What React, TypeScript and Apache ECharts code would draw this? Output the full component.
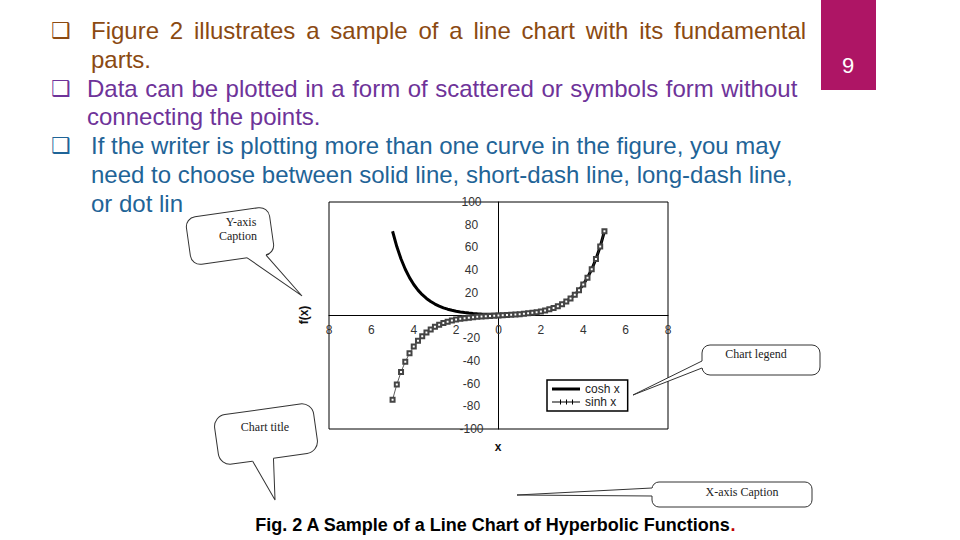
import React, { useEffect, useRef } from "react";
import * as echarts from "echarts";

const xValues = [
  -5, -4.8, -4.6, -4.4, -4.2, -4, -3.8, -3.6, -3.4, -3.2, -3, -2.8, -2.6, -2.4, -2.2, -2, -1.8, -1.6, -1.4, -1.2, -1,
  -0.8, -0.6, -0.4, -0.2, 0, 0.2, 0.4, 0.6, 0.8, 1, 1.2, 1.4, 1.6, 1.8, 2, 2.2, 2.4, 2.6, 2.8, 3, 3.2, 3.4, 3.6, 3.8,
  4, 4.2, 4.4, 4.6, 4.8, 5,
];
const coshValues = [
  74.21, 60.76, 49.74, 40.73, 33.35, 27.31, 22.36, 18.31, 15.0, 12.29, 10.07, 8.25, 6.77, 5.56, 4.57, 3.76, 3.11,
  2.58, 2.15, 1.81, 1.54, 1.34, 1.19, 1.08, 1.02, 1.0, 1.02, 1.08, 1.19, 1.34, 1.54, 1.81, 2.15, 2.58, 3.11, 3.76,
  4.57, 5.56, 6.77, 8.25, 10.07, 12.29, 15.0, 18.31, 22.36, 27.31, 33.35, 40.73, 49.74, 60.76, 74.21,
];
const sinhValues = [
  -74.2, -60.75, -49.73, -40.72, -33.34, -27.29, -22.34, -18.29, -14.97, -12.25, -10.02, -8.19, -6.69, -5.47, -4.46,
  -3.63, -2.94, -2.38, -1.9, -1.51, -1.18, -0.89, -0.64, -0.41, -0.2, 0, 0.2, 0.41, 0.64, 0.89, 1.18, 1.51, 1.9, 2.38,
  2.94, 3.63, 4.46, 5.47, 6.69, 8.19, 10.02, 12.25, 14.97, 18.29, 22.34, 27.29, 33.34, 40.72, 49.73, 60.75, 74.2,
];
const seriesNames = ["cosh x", "sinh x"];

const bulletLines = [
  { text: "Figure 2 illustrates a sample of a line chart with its fundamental", x: 91, y: 30, color: "#8B4A12", bullet: true, justify: 10.8 },
  { text: "parts.", x: 91, y: 59, color: "#8B4A12", bullet: false, justify: 0 },
  { text: "Data can be plotted in a form of scattered or symbols form without", x: 87, y: 88, color: "#6E3399", bullet: true, justify: 7.5 },
  { text: "connecting the points.", x: 87, y: 116, color: "#6E3399", bullet: false, justify: 0 },
  { text: "If the writer is plotting more than one curve in the figure, you may", x: 91, y: 145, color: "#1F6497", bullet: true, justify: 0 },
  { text: "need to choose between solid line, short-dash line, long-dash line,", x: 91, y: 174, color: "#1F6497", bullet: false, justify: 0 },
  { text: "or dot lin", x: 91, y: 203, color: "#1F6497", bullet: false, justify: 0 },
];

const SANS = "'Liberation Sans', Arial, sans-serif";
const SERIF = "'Liberation Serif', 'Times New Roman', serif";

function bubble(
  cx: number, cy: number, w: number, h: number, rot: number, r: number,
  side: "bottom" | "left", a: number, b: number, tip: [number, number]
) {
  const c = Math.cos(rot);
  const s = Math.sin(rot);
  const dx = tip[0] - cx;
  const dy = tip[1] - cy;
  const tl = [dx * c - dy * s, dx * s + dy * c];
  let p1: number[], p2: number[], q1: number[], q2: number[];
  if (side === "bottom") {
    p1 = [a, h / 2]; p2 = [b, h / 2]; q1 = [a, h / 2 - 2]; q2 = [b, h / 2 - 2];
  } else {
    p1 = [-w / 2, a]; p2 = [-w / 2, b]; q1 = [-w / 2 + 2, a]; q2 = [-w / 2 + 2, b];
  }
  return {
    type: "group",
    x: cx,
    y: cy,
    rotation: rot,
    children: [
      { type: "rect", shape: { x: -w / 2, y: -h / 2, width: w, height: h, r }, style: { fill: "#fff", stroke: "#333", lineWidth: 1 } },
      { type: "polygon", shape: { points: [q1, q2, p2, tl, p1] }, style: { fill: "#fff" } },
      { type: "polyline", shape: { points: [p1, tl, p2] }, style: { fill: null, stroke: "#333", lineWidth: 1 } },
    ],
  };
}

function label(text: string, x: number, y: number, size = 12, font = SERIF, color = "#222", weight = "normal") {
  return {
    type: "text",
    x,
    y,
    style: { text, fill: color, font: `${weight} ${size}px ${font}`, textAlign: "center", textVerticalAlign: "middle" },
  };
}

function bodyText(text: string, x: number, y: number, color: string, spaceWidth: number) {
  const font = { fontFamily: SANS, fontSize: 24, fill: color, color };
  if (!spaceWidth) {
    return {
      type: "text", x, y,
      style: { text, fill: color, font: `24px ${SANS}`, textAlign: "left", textVerticalAlign: "middle" },
    };
  }
  const words = text.split(" ");
  const rich = words.map((w) => `{w|${w}}`).join(`{s| }`);
  return {
    type: "text", x, y,
    style: {
      text: rich, textAlign: "left", textVerticalAlign: "middle",
      rich: { w: font, s: { ...font, width: spaceWidth } },
    },
  };
}

export default function App() {
  const ref = useRef<HTMLDivElement>(null);
  useEffect(() => {
    if (!ref.current) return;
    const chart = echarts.init(ref.current, null, { renderer: "svg" });

    const gridLeft = 329, gridTop = 202, gridW = 339, gridH = 227;
    const xMin = -8, xMax = 8, yMin = -100, yMax = 100;
    const zeroX = gridLeft + (gridW * (0 - xMin)) / (xMax - xMin);
    const zeroY = gridTop + (gridH * (yMax - 0)) / (yMax - yMin);

    const graphics: any[] = [];
    graphics.push({ type: "rect", shape: { x: 821, y: 0, width: 55, height: 90 }, style: { fill: "#AE1565" } });
    graphics.push(label("9", 848, 65, 22, SANS, "#fff"));
    bulletLines.forEach((l) => {
      graphics.push(bodyText(l.text, l.x, l.y, l.color, l.justify));
      if (l.bullet) {
        graphics.push({
          type: "text", x: 61, y: l.y,
          style: { text: "\u2751", fill: l.color, font: `22px 'DejaVu Sans'`, textAlign: "center", textVerticalAlign: "middle" },
        });
      }
    });
    graphics.push({ type: "rect", z: -1, shape: { x: 185, y: 192, width: 640, height: 340 }, style: { fill: "#fff" } });

    graphics.push(bubble(230, 236, 84, 48, 0.14, 10, "bottom", 14, 33, [302, 296]));
    graphics.push(label("Y-axis", 241, 222));
    graphics.push(label("Caption", 238, 236));

    graphics.push(bubble(266, 434, 100, 50, 0.14, 12, "bottom", -17, 4, [275, 500]));
    graphics.push(label("Chart title", 265, 427));

    graphics.push(bubble(761, 360, 118, 30, 0, 8, "left", 1, 8, [633, 395]));
    graphics.push(label("Chart legend", 756, 354));

    graphics.push(bubble(732, 494.5, 160, 25, 0, 7, "left", -6.5, 1.5, [517, 495]));
    graphics.push(label("X-axis Caption", 742, 492));

    graphics.push({
      type: "text", x: 304, y: 315, rotation: Math.PI / 2,
      style: { text: "f(x)", fill: "#111", font: `bold 12px ${SANS}`, textAlign: "center", textVerticalAlign: "middle" },
    });
    graphics.push(label("x", 498, 447, 12, SANS, "#111", "bold"));

    graphics.push({
      type: "text", x: 495, y: 525,
      style: {
        text: "{a|Fig. 2 A Sample of a Line Chart of Hyperbolic Functions}{b|.}",
        textAlign: "center", textVerticalAlign: "middle",
        rich: {
          a: { fontFamily: SANS, fontWeight: "bold", fontSize: 18, fill: "#000", color: "#000" },
          b: { fontFamily: SANS, fontWeight: "bold", fontSize: 18, fill: "#C00000", color: "#C00000" },
        },
      },
    });

    chart.setOption({
      animation: false,
      backgroundColor: "#fff",
      grid: { left: gridLeft, top: gridTop, width: gridW, height: gridH, show: true, borderColor: "#000", borderWidth: 1, backgroundColor: "transparent" },
      xAxis: {
        type: "value", min: xMin, max: xMax, interval: 2, position: "bottom",
        offset: -(gridTop + gridH - zeroY),
        axisLine: { onZero: false, lineStyle: { color: "#000", width: 1 } },
        axisTick: { show: false },
        splitLine: { show: false },
        axisLabel: { color: "#333", fontSize: 12, fontFamily: SANS, margin: 8, formatter: (v: number) => String(Math.abs(v)) },
      },
      yAxis: {
        type: "value", min: yMin, max: yMax, interval: 20, position: "left",
        offset: -(zeroX - gridLeft),
        axisLine: { onZero: false, lineStyle: { color: "#000", width: 1 } },
        axisTick: { show: false },
        splitLine: { show: false },
        axisLabel: {
          color: "#333", fontSize: 12, fontFamily: SANS, margin: 27, align: "center",
          formatter: (v: number) => (v === 0 ? "" : String(v)),
        },
      },
      legend: {
        left: 547, top: 380, orient: "vertical",
        padding: [3, 8, 3, 5], itemGap: 1, itemWidth: 28, itemHeight: 10,
        borderColor: "#000", borderWidth: 1.5, backgroundColor: "#fff",
        textStyle: { fontSize: 12, fontFamily: SANS, color: "#222" },
        data: [
          { name: seriesNames[0], icon: "path://M0,0M28,10M0,3.5H28V6.5H0Z", itemStyle: { color: "#000", borderWidth: 0 } },
          {
            name: seriesNames[1],
            icon: "path://M0,0M28,10M0,4.5H28V5.5H0Z M8,2.5H9V7.5H8Z M14,2.5H15V7.5H14Z M20,2.5H21V7.5H20Z",
            itemStyle: { color: "#000", borderWidth: 0 },
          },
        ],
      },
      graphic: { elements: graphics },
      series: [
        {
          name: seriesNames[0], type: "line", showSymbol: false, symbol: "none",
          lineStyle: { color: "#000", width: 3 }, itemStyle: { color: "#000" },
          data: xValues.map((x, i) => [x, coshValues[i]]), z: 3,
        },
        {
          name: seriesNames[1], type: "line", symbol: "emptyRect", symbolSize: 4,
          lineStyle: { color: "#333", width: 0.8 }, itemStyle: { color: "#444", borderWidth: 0.6 },
          data: xValues.map((x, i) => [x, sinhValues[i]]), z: 4,
        },
      ],
    });
    return () => chart.dispose();
  }, []);
  return <div ref={ref} style={{ position: "absolute", left: 0, top: 0, width: 960, height: 540, background: "#fff" }} />;
}
